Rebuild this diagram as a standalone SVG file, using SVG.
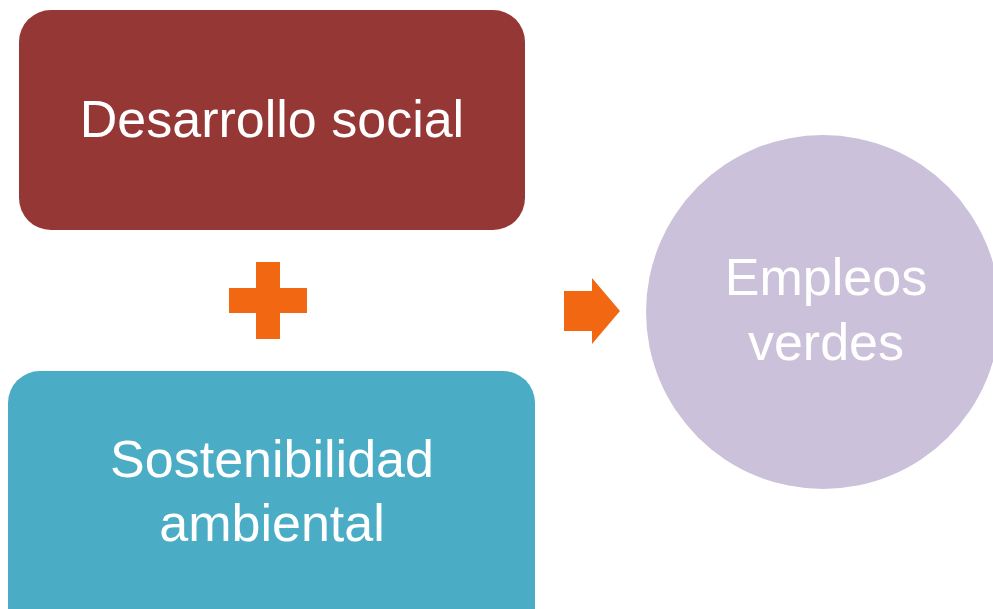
<svg xmlns="http://www.w3.org/2000/svg" width="993" height="609" viewBox="0 0 993 609">
  <style>
    .lbl { font-family: "Liberation Sans", Arial, sans-serif; font-size: 52px; fill: #FFFFFF; text-anchor: middle; }
    .op { fill: #F26812; }
  </style>
  <rect x="0" y="0" width="993" height="609" fill="#FFFFFF"/>
  <g id="desarrollo-social">
    <rect x="19" y="10" width="506" height="220" rx="32" ry="32" fill="#953735"/>
    <text class="lbl" x="272" y="137">Desarrollo social</text>
  </g>
  <g id="sostenibilidad-ambiental">
    <rect x="8" y="371" width="527" height="280" rx="32" ry="32" fill="#4BACC6"/>
    <text class="lbl" x="272" y="477">Sostenibilidad</text>
    <text class="lbl" x="272" y="541">ambiental</text>
  </g>
  <g id="empleos-verdes">
    <circle cx="823" cy="312" r="177" fill="#CCC1DA"/>
    <text class="lbl" x="826" y="295">Empleos</text>
    <text class="lbl" x="826" y="360">verdes</text>
  </g>
  <g id="connectors">
    <path class="op" d="M256,262 H280 V288 H307 V313 H280 V339 H256 V313 H229 V288 H256 Z"/>
    <path class="op" d="M564,291 H592 V278 L620,311 L592,344 V331 H564 Z"/>
  </g>
</svg>
